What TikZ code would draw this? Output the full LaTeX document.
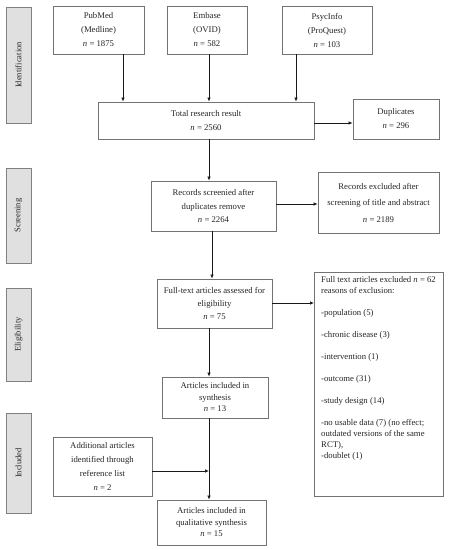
\documentclass[tikz,border=0pt]{standalone}
\usepackage{fontspec}
\setmainfont{Liberation Serif}
\usetikzlibrary{arrows.meta,calc}
\tikzset{
>={Latex[length=4pt,width=3.5pt]},
box/.style={draw=black!55,line width=0.8pt,fill=white,align=center,inner sep=1pt,text=black!85,font=\fontsize{8.7}{14}\selectfont},
tight/.style={font=\fontsize{8.7}{11.5}\selectfont},
side/.style={draw=black!50,fill=black!12,rotate=90,inner sep=0pt,minimum height=25pt,text=black!85,font=\fontsize{8.5}{9}\selectfont},
freccia/.style={->,line width=0.7pt,black!90}}

\begin{document}
\begin{tikzpicture}[x=1pt,y=-1pt]
\useasboundingbox (0,0) rectangle (449,550);

% phase labels
\node[side,minimum width=116] (ident) at (18.5,65) {Identification};
\node[side,minimum width=95] (screen) at (18.5,215.5) {Screening};
\node[side,minimum width=93] (elig) at (18.5,334.5) {Eligibility};
\node[side,minimum width=100] (incl) at (18.5,463) {Included};

% boxes
\node[box,minimum width=91,minimum height=48] (pubmed) at (98.5,30) {PubMed\\(Medline)\\\textit{n} = 1875};
\node[box,minimum width=80,minimum height=48] (embase) at (207,30) {Embase\\(OVID)\\\textit{n} = 582};
\node[box,minimum width=90,minimum height=48] (psyc) at (327,30) {PsycInfo\\(ProQuest)\\\textit{n} = 103};
\node[box,minimum width=216,minimum height=37] (total) at (206,120.5) {Total research result\\\textit{n} = 2560};
\node[box,minimum width=86,minimum height=40] (dup) at (396,119) {Duplicates\\\textit{n} = 296};
\node[box,font=\fontsize{8.7}{13.5}\selectfont,minimum width=125,minimum height=50] (screened) at (213.5,206) {Records screenied after\\duplicates remove\\\textit{n} = 2264};
\node[box,font=\fontsize{8.7}{16.5}\selectfont,minimum width=121,minimum height=61] (recexcl) at (378.5,202.5) {Records excluded after\\screening of title and abstract\\\textit{n} = 2189};
\node[box,font=\fontsize{8.7}{13}\selectfont,minimum width=115,minimum height=49] (fulltext) at (214.5,303.5) {Full-text articles assessed for\\eligibility\\\textit{n} = 75};
\node[box,anchor=north west,minimum width=129,minimum height=224] (ftexcl) at (314,272) {};
\node[anchor=north west,align=left,inner sep=0pt,text=black!85,font=\fontsize{8.7}{11}\selectfont] (ftexcltext) at (321,276)
  {Full text articles excluded \textit{n} = 62\\reasons of exclusion:\\[11pt]
   -population (5)\\[11pt]-chronic disease (3)\\[11pt]-intervention (1)\\[11pt]
   -outcome (31)\\[11pt]-study design (14)\\[11pt]
   -no usable data (7) (no effect;\\outdated versions of the same\\RCT),\\-doublet (1)};
\node[box,tight,minimum width=106,minimum height=41] (synth) at (215,397.5) {Articles included in\\synthesis\\\textit{n} = 13};
\node[box,minimum width=99,minimum height=59] (addl) at (102.5,466.5) {Additional articles\\identified through\\reference list\\\textit{n} = 2};
\node[box,tight,minimum width=109,minimum height=45] (qual) at (211.5,522.5) {Articles included in\\qualitative synthesis\\\textit{n} = 15};

% arrows
\coordinate (spine) at (209,0);
\coordinate (pm) at (123,0);
\coordinate (ps) at (296,0);
\draw[freccia] (pubmed.south -| pm) -- (total.north -| pm);
\draw[freccia] (embase.south -| spine) -- (total.north -| spine);
\draw[freccia] (psyc.south -| ps) -- (total.north -| ps);
\draw[freccia] (total.east |- 0,123) -- (dup.west |- 0,123);
\draw[freccia] (total.south -| spine) -- (screened.north -| spine);
\draw[freccia] (screened.east |- 0,204) -- (recexcl.west |- 0,204);
\draw[freccia] (screened.south -| 212,0) -- (fulltext.north -| 212,0);
\draw[freccia] (fulltext.east |- 0,303) -- (ftexcl.west |- 0,303);
\draw[freccia] (fulltext.south -| spine) -- (synth.north -| spine);
\draw[freccia] (synth.south -| spine) -- (qual.north -| spine);
\draw[freccia] (addl.east |- 0,471) -- (spine |- 0,471);
\end{tikzpicture}
\end{document}
